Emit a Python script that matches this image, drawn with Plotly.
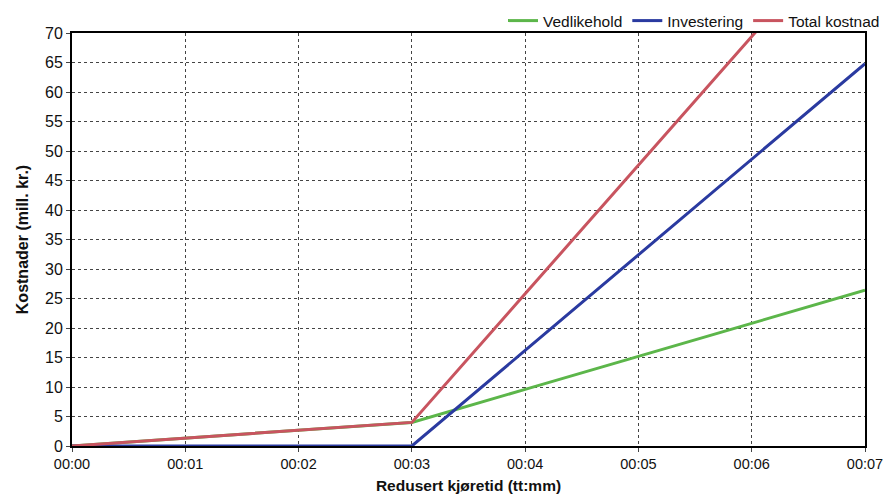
import plotly.graph_objects as go

x_vals = [0, 1, 2, 3, 4, 5, 6, 7]
x_labels = ["00:00", "00:01", "00:02", "00:03", "00:04", "00:05", "00:06", "00:07"]
vedlikehold = [0, 1.3, 2.7, 4.0, 9.6, 15.2, 20.8, 26.4]
investering = [0, 0, 0, 0, 16.2, 32.4, 48.6, 64.8]
total = [v + i for v, i in zip(vedlikehold, investering)]
y_ticks = list(range(0, 75, 5))

fig = go.Figure()
fig.add_trace(go.Scatter(x=x_vals, y=vedlikehold, mode="lines", name="Vedlikehold",
                         line=dict(color="#5cb64a", width=3)))
fig.add_trace(go.Scatter(x=x_vals, y=investering, mode="lines", name="Investering",
                         line=dict(color="#2a3aa0", width=3)))
fig.add_trace(go.Scatter(x=x_vals, y=total, mode="lines", name="Total kostnad",
                         line=dict(color="#c8545f", width=3)))

# page body has an 8px margin, so the figure is sized to fit the 893x502 window
fig.update_layout(
    width=877, height=486,
    margin=dict(l=64, r=20, t=25, b=48, autoexpand=False),
    paper_bgcolor="white", plot_bgcolor="white",
    font=dict(family="Liberation Sans, Arial, sans-serif", color="#111", size=16),
    legend=dict(orientation="h", xref="container", yref="paper",
                x=1.0, xanchor="right", y=1.029, yanchor="middle",
                font=dict(size=15.5), itemwidth=30, tracegroupgap=0,
                bgcolor="rgba(0,0,0,0)"),
    showlegend=True,
)
fig.update_xaxes(
    range=[0, 7], tickmode="array", tickvals=x_vals, ticktext=x_labels,
    showgrid=True, gridcolor="#444", griddash="dot", gridwidth=1,
    showline=True, linecolor="black", linewidth=2, mirror=True,
    ticks="outside", ticklen=4, tickcolor="#444",
    zeroline=False, automargin=False, ticklabeloverflow="allow",
    tickfont=dict(size=14.5),
    title=dict(text="<b>Redusert kjøretid (tt:mm)</b>", font=dict(size=15.5), standoff=16),
)
fig.update_yaxes(
    range=[0, 70], tickmode="array", tickvals=y_ticks,
    showgrid=True, gridcolor="#444", griddash="dot", gridwidth=1,
    showline=True, linecolor="black", linewidth=2, mirror=True,
    ticks="outside", ticklen=4, tickcolor="#444",
    zeroline=False, automargin=False,
    tickfont=dict(size=16),
    title=dict(text="<b>Kostnader (mill. kr.)</b>", font=dict(size=16), standoff=12),
)

fig.write_html("out.html")
